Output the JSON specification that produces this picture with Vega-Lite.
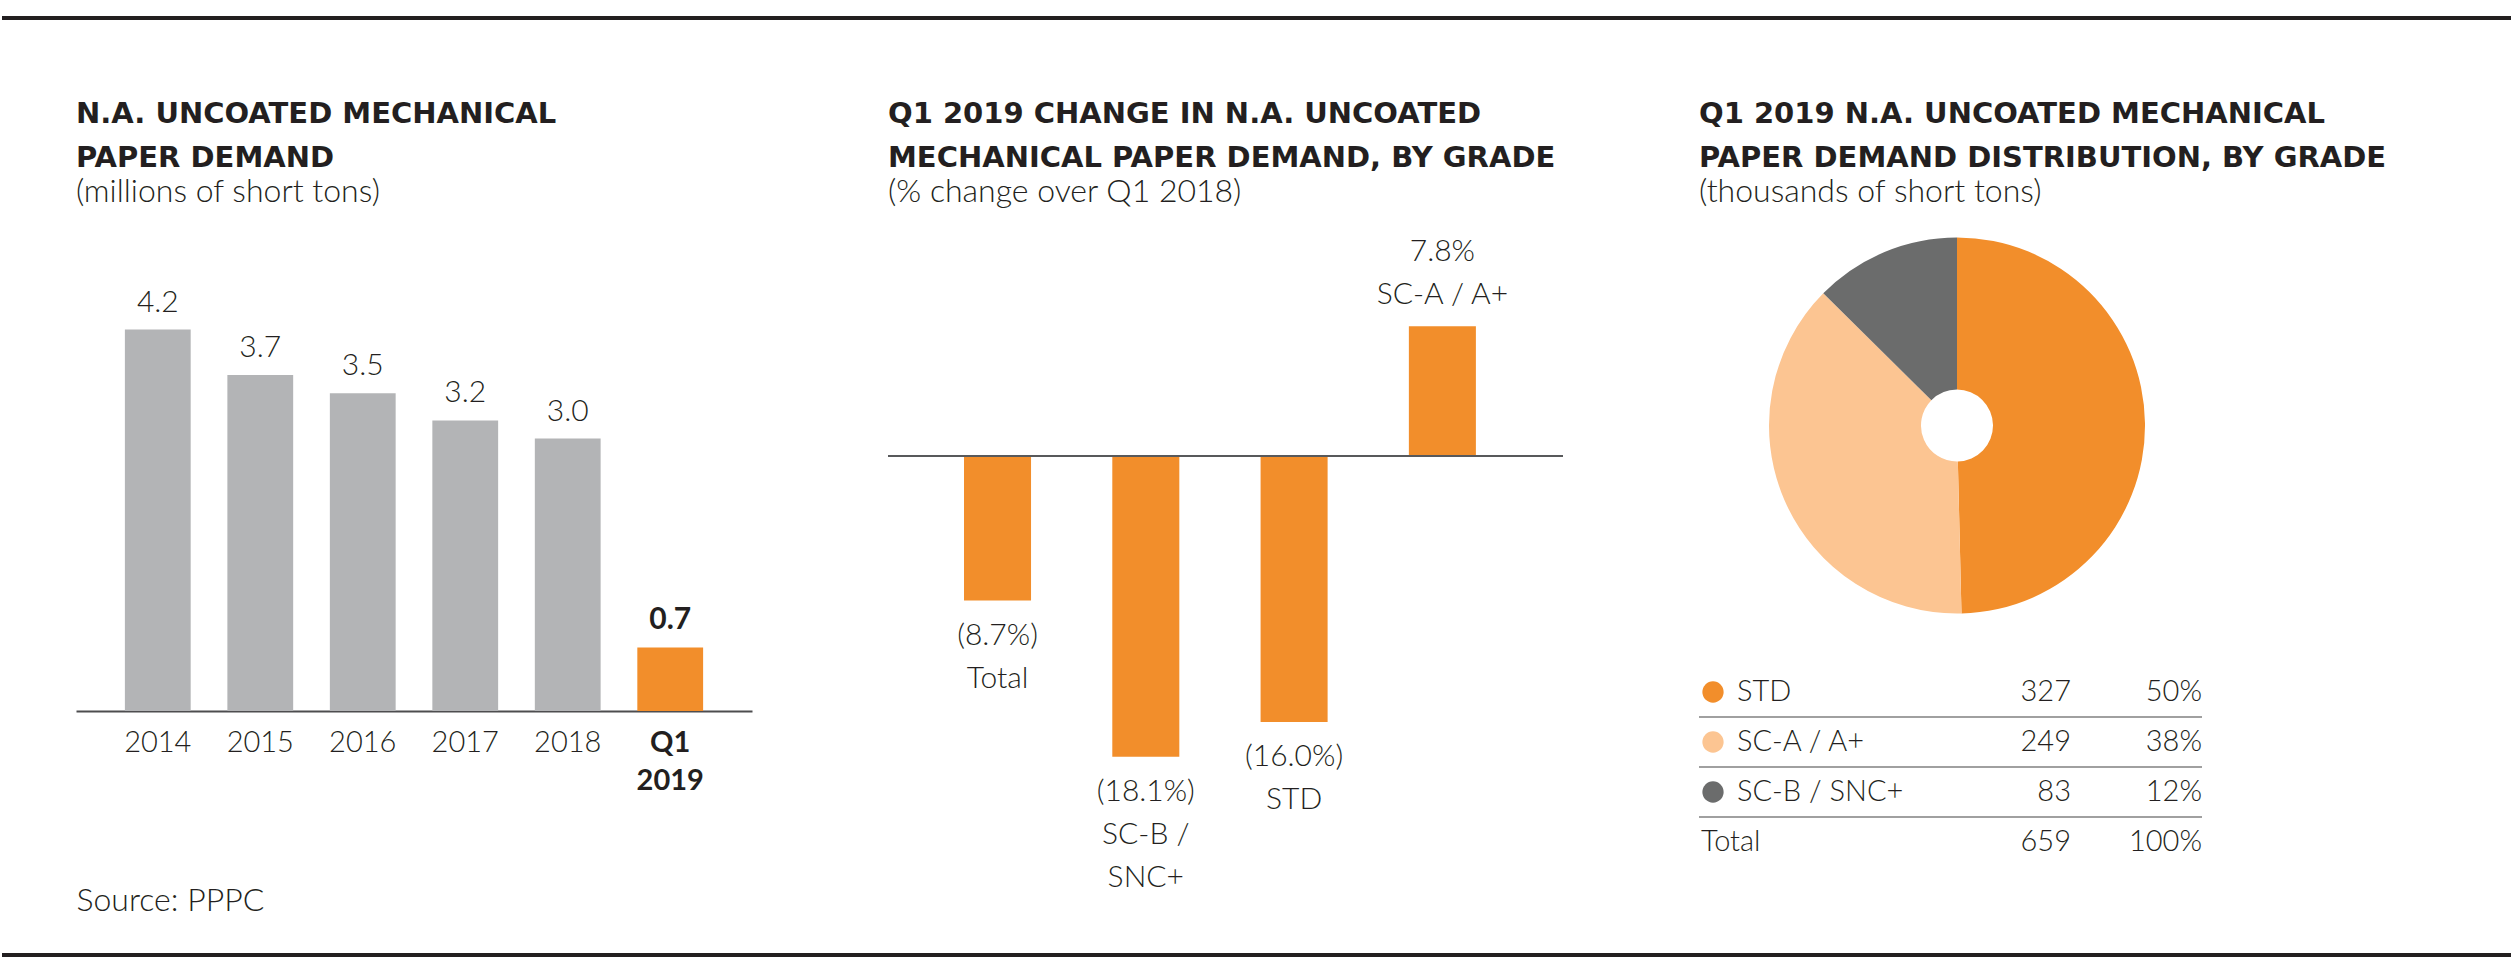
{
  "$schema": "https://vega.github.io/schema/vega-lite/v6.json",
  "background": "white",
  "padding": {"left": 0, "top": 16, "right": 0, "bottom": 0},
  "config": {
    "view": {"stroke": null},
    "font": "Lato",
    "text": {"font": "Lato", "fontWeight": 300, "fontSize": 30, "color": "#231F20"},
    "title": {
      "anchor": "start", "frame": "group", "font": "DejaVu Sans", "fontWeight": "bold",
      "fontSize": 29, "lineHeight": 44, "color": "#231F20",
      "subtitleFont": "Lato", "subtitleFontWeight": 300, "subtitleFontSize": 32,
      "subtitleColor": "#231F20", "subtitlePadding": 4, "offset": 21
    }
  },
  "spacing": 37,
  "bounds": "full",
  "center": true,
  "vconcat": [
    {
      "width": 2509, "height": 45,
      "data": {"values": [{"edge": "top"}]},
      "mark": {"type": "rule", "color": "#231F20", "strokeWidth": 4},
      "encoding": {"y": {"datum": 1, "type": "quantitative", "scale": {"domain": [0, 1]}, "axis": null}}
    },
    {
      "spacing": 136,
      "bounds": "flush",
      "hconcat": [
        {
          "width": 676, "height": 482,
          "title": {"text": ["N.A. UNCOATED MECHANICAL", "PAPER DEMAND"], "subtitle": "(millions of short tons)"},
          "data": {"values": [
            {"period": "2014", "demand": 4.2, "kind": "year"},
            {"period": "2015", "demand": 3.7, "kind": "year"},
            {"period": "2016", "demand": 3.5, "kind": "year"},
            {"period": "2017", "demand": 3.2, "kind": "year"},
            {"period": "2018", "demand": 3.0, "kind": "year"},
            {"period": "Q1 2019", "demand": 0.7, "kind": "quarter"}
          ]},
          "encoding": {
            "x": {
              "field": "period", "type": "nominal", "sort": null,
              "scale": {"paddingInner": 0.358, "paddingOuter": 0.477},
              "axis": {
                "title": "Source: PPPC", "titleAnchor": "start", "titleAlign": "left",
                "titleFont": "Lato", "titleFontWeight": 300, "titleFontSize": 32, "titleColor": "#231F20",
                "titlePadding": 90, "labelAngle": 0, "labelFont": "Lato", "labelFontSize": 29,
                "labelColor": "#231F20",
                "labelFontWeight": {"condition": {"test": "datum.value === 'Q1 2019'", "value": "bold"}, "value": 300},
                "labelExpr": "split(datum.label, ' ')", "labelLineHeight": 38, "labelPadding": 17,
                "ticks": false, "tickSize": 0, "domainColor": "#4D4D4F", "domainWidth": 2, "grid": false
              }
            },
            "y": {"field": "demand", "type": "quantitative", "scale": {"domain": [0, 5.308], "nice": false}, "axis": null}
          },
          "layer": [
            {
              "transform": [{"filter": "datum.kind === 'year'"}],
              "mark": {"type": "bar", "color": "#B3B4B6"}
            },
            {
              "transform": [{"filter": "datum.kind === 'quarter'"}],
              "mark": {"type": "bar", "color": "#F28E2B"}
            },
            {
              "transform": [{"filter": "datum.kind === 'year'"}],
              "mark": {"type": "text", "dy": -18, "baseline": "alphabetic", "fontWeight": 300},
              "encoding": {"text": {"field": "demand", "type": "quantitative", "format": ".1f"}}
            },
            {
              "transform": [{"filter": "datum.kind === 'quarter'"}],
              "mark": {"type": "text", "dy": -18, "baseline": "alphabetic", "fontWeight": "bold"},
              "encoding": {"text": {"field": "demand", "type": "quantitative", "format": ".1f"}}
            }
          ]
        },
        {
          "width": 675, "height": 540,
          "title": {"text": ["Q1 2019 CHANGE IN N.A. UNCOATED", "MECHANICAL PAPER DEMAND, BY GRADE"], "subtitle": "(% change over Q1 2018)"},
          "data": {"values": [
            {"grade": "Total", "change": -8.7, "label": ["(8.7%)", "Total"]},
            {"grade": "SC-B / SNC+", "change": -18.1, "label": ["(18.1%)", "SC-B /", "SNC+"]},
            {"grade": "STD", "change": -16.0, "label": ["(16.0%)", "STD"]},
            {"grade": "SC-A / A+", "change": 7.8, "label": ["7.8%", "SC-A / A+"]}
          ]},
          "layer": [
            {
              "mark": {"type": "bar", "color": "#F28E2B"},
              "encoding": {
                "x": {"field": "grade", "type": "nominal", "sort": null, "scale": {"paddingInner": 0.548, "paddingOuter": 0.55, "align": 0.466}, "axis": null},
                "y": {"field": "change", "type": "quantitative", "scale": {"domain": [-18.833, 13.658], "nice": false, "zero": true}, "axis": null}
              }
            },
            {
              "transform": [{"filter": "datum.change < 0"}],
              "mark": {"type": "text", "dy": 44, "baseline": "alphabetic", "lineHeight": 43},
              "encoding": {
                "x": {"field": "grade", "type": "nominal", "sort": null},
                "y": {"field": "change", "type": "quantitative"},
                "text": {"field": "label"}
              }
            },
            {
              "transform": [{"filter": "datum.change > 0"}],
              "mark": {"type": "text", "dy": -65, "baseline": "alphabetic", "lineHeight": 43},
              "encoding": {
                "x": {"field": "grade", "type": "nominal", "sort": null},
                "y": {"field": "change", "type": "quantitative"},
                "text": {"field": "label"}
              }
            },
            {
              "data": {"values": [{"zero": 0}]},
              "mark": {"type": "rule", "color": "#58595B", "strokeWidth": 2},
              "encoding": {"y": {"field": "zero", "type": "quantitative"}}
            }
          ]
        },
        {
          "spacing": 45,
          "bounds": "flush",
          "title": {"text": ["Q1 2019 N.A. UNCOATED MECHANICAL", "PAPER DEMAND DISTRIBUTION, BY GRADE"], "subtitle": "(thousands of short tons)"},
          "vconcat": [
            {
              "width": 516, "height": 393,
              "data": {"values": [
                {"grade": "STD", "tons": 327},
                {"grade": "SC-A / A+", "tons": 249},
                {"grade": "SC-B / SNC+", "tons": 83}
              ]},
              "mark": {"type": "arc", "outerRadius": 188, "innerRadius": 36},
              "encoding": {
                "theta": {"field": "tons", "type": "quantitative", "stack": true},
                "order": {"field": "tons", "type": "quantitative", "sort": "descending"},
                "color": {"field": "grade", "type": "nominal", "scale": {"domain": ["STD", "SC-A / A+", "SC-B / SNC+"], "range": ["#F28E2B", "#FCC592", "#6B6C6C"]}, "legend": null}
              }
            },
            {
              "width": 740, "height": 200,
              "data": {"values": [
                {"grade": "STD", "tons": 327, "share": 0.50},
                {"grade": "SC-A / A+", "tons": 249, "share": 0.38},
                {"grade": "SC-B / SNC+", "tons": 83, "share": 0.12},
                {"grade": "Total", "tons": 659, "share": 1.00}
              ]},
              "layer": [
                {
                  "transform": [{"filter": "datum.grade !== 'Total'"}],
                  "mark": {"type": "rule", "color": "#808080", "strokeWidth": 1.5},
                  "encoding": {
                    "y": {"field": "grade", "type": "nominal", "bandPosition": 1, "scale": {"domain": ["STD", "SC-A / A+", "SC-B / SNC+", "Total"], "paddingInner": 0, "paddingOuter": 0}, "axis": null},
                    "x": {"datum": 0, "type": "quantitative", "scale": {"domain": [0, 740], "nice": false, "zero": false}, "axis": null},
                    "x2": {"datum": 503}
                  }
                },
                {
                  "transform": [{"filter": "datum.grade !== 'Total'"}],
                  "mark": {"type": "circle", "size": 452, "opacity": 1},
                  "encoding": {
                    "y": {"field": "grade", "type": "nominal"},
                    "x": {"datum": 14, "type": "quantitative"},
                    "color": {"field": "grade", "type": "nominal", "scale": {"domain": ["STD", "SC-A / A+", "SC-B / SNC+"], "range": ["#F28E2B", "#FCC592", "#6B6C6C"]}, "legend": null}
                  }
                },
                {
                  "transform": [{"filter": "datum.grade !== 'Total'"}],
                  "mark": {"type": "text", "align": "left", "baseline": "middle", "fontSize": 29},
                  "encoding": {
                    "y": {"field": "grade", "type": "nominal"},
                    "x": {"datum": 38, "type": "quantitative"},
                    "text": {"field": "grade"}
                  }
                },
                {
                  "transform": [{"filter": "datum.grade === 'Total'"}],
                  "mark": {"type": "text", "align": "left", "baseline": "middle", "fontSize": 29},
                  "encoding": {
                    "y": {"field": "grade", "type": "nominal"},
                    "x": {"datum": 2, "type": "quantitative"},
                    "text": {"field": "grade"}
                  }
                },
                {
                  "mark": {"type": "text", "align": "right", "baseline": "middle", "fontSize": 29},
                  "encoding": {
                    "y": {"field": "grade", "type": "nominal"},
                    "x": {"datum": 372, "type": "quantitative"},
                    "text": {"field": "tons", "type": "quantitative", "format": "d"}
                  }
                },
                {
                  "mark": {"type": "text", "align": "right", "baseline": "middle", "fontSize": 29},
                  "encoding": {
                    "y": {"field": "grade", "type": "nominal"},
                    "x": {"datum": 503, "type": "quantitative"},
                    "text": {"field": "share", "type": "quantitative", "format": ".0%"}
                  }
                }
              ]
            }
          ]
        }
      ]
    },
    {
      "width": 2509, "height": 1,
      "data": {"values": [{"edge": "bottom"}]},
      "mark": {"type": "rule", "color": "#231F20", "strokeWidth": 4},
      "encoding": {"y": {"datum": 1, "type": "quantitative", "scale": {"domain": [0, 1]}, "axis": null}}
    }
  ]
}
